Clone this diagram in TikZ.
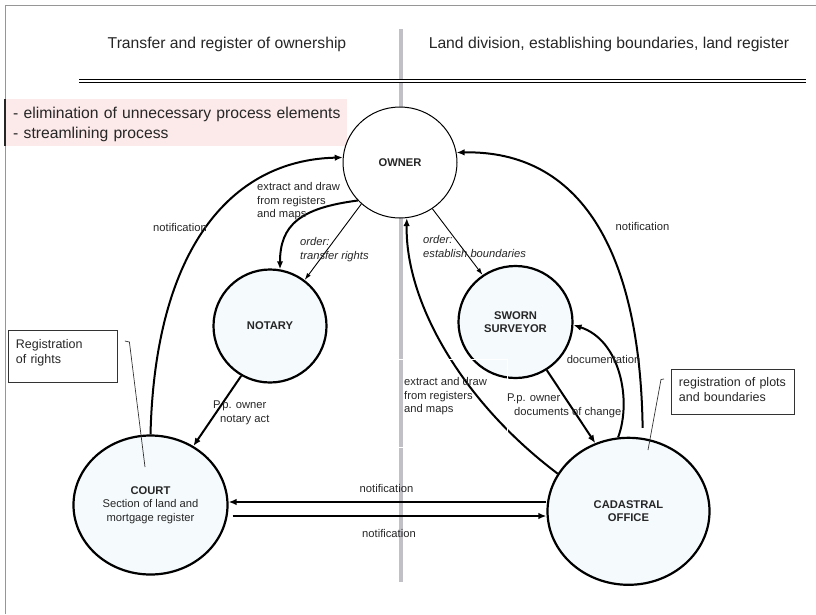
\documentclass[tikz,border=0pt]{standalone}
\usepackage{fontspec}
\setmainfont{Liberation Sans}
\usepackage{tikz}
\usetikzlibrary{shapes.geometric,arrows.meta}

\definecolor{frameGray}{RGB}{150,150,150}
\definecolor{axisGray}{RGB}{192,192,198}
\definecolor{notePink}{RGB}{252,233,233}
\definecolor{officeFill}{RGB}{245,250,253}
\definecolor{inkGray}{RGB}{38,38,38}

\tikzset{
  office/.style={ellipse, draw=black, line width=2.2pt, fill=officeFill,
    font=\fontsize{11.2}{13.5}\selectfont, text=inkGray, align=center, inner sep=0pt},
  flow/.style={line width=2pt, -{Latex[length=8pt,width=6.5pt]}},
  order/.style={line width=0.9pt, -{Latex[length=7pt,width=4.5pt]}},
  lbl/.style={font=\fontsize{11.2}{13.5}\selectfont, text=inkGray, inner sep=0pt, align=left},
  memo/.style={draw=black!80, line width=0.9pt, font=\fontsize{12.5}{15}\selectfont,
    text=inkGray, align=left, anchor=north west},
  pin/.style={line width=0.7pt, black!80},
  headline/.style={anchor=base, font=\fontsize{15.7}{19}\selectfont, text=inkGray},
}

\begin{document}
\begin{tikzpicture}[x=1pt, y=-1pt]
\useasboundingbox (0,0) rectangle (816,614);

% dividing axis and frame
\draw[axisGray, line width=4pt] (400.7,29) -- (400.7,582);
\draw[frameGray, line width=0.9pt] (816,5) -- (5,5) -- (5,614);
\draw[double, double distance=2pt, line width=0.8pt] (79,81) -- (806,81);

\node[headline] (lefthead) at (227,48) {Transfer and register of ownership};
\node[headline] (righthead) at (609,48) {Land division, establishing boundaries, land register};

% aims of the reform
\node[anchor=north west, fill=notePink, text width=326pt, inner xsep=8pt, inner ysep=7.5pt,
  text depth=20pt, align=left, font=\fontsize{15.7}{20}\selectfont, text=inkGray] (aims) at (5,99)
  {\mbox{- elimination of unnecessary process elements}\\\mbox{- streamlining process}};
\draw[black!85, line width=1.2pt] (aims.north west) -- (aims.south west);

% offices
\node[office, line width=1pt, fill=white, minimum width=114pt, minimum height=111pt]
  (owner) at (400,162.5) {\textbf{OWNER}};
\node[office, minimum width=113pt, minimum height=113pt]
  (notary) at (270,326) {\textbf{NOTARY}};
\node[office, minimum width=114pt, minimum height=112pt]
  (sworn) at (515.5,322) {\textbf{SWORN}\\\textbf{SURVEYOR}};
\node[office, minimum width=154pt, minimum height=139pt]
  (court) at (150.5,505) {\textbf{COURT}\\Section of land and\\mortgage register};
\node[office, minimum width=162pt, minimum height=147pt]
  (cadastral) at (628.5,511.3) {\textbf{CADASTRAL}\\\textbf{OFFICE}};

% ownership transfer
\draw[order] (owner.227) -- (notary.53);
\draw[flow] (owner.222) .. controls (300,208) and (280,225) .. (notary.80);
\draw[flow] (notary.240) -- (court.54);
\draw[flow] (court.north) .. controls (155,250) and (230,160) .. (owner.175);

% division and boundaries
\draw[order] (owner.305) -- (sworn.125);
\draw[flow] (sworn.303) -- (cadastral.116);
\draw[flow] (cadastral.98) .. controls (632,400) and (620,340) .. (sworn.357);
\draw[flow] (cadastral.152) .. controls (460,400) and (405,300) .. (owner.277);
\draw[flow, shorten <=10pt] (cadastral.79) .. controls (640,250) and (580,150) .. (owner.10);

% court <-> cadastral office
\draw[flow] ([yshift=9.3pt]cadastral.west) -- ([yshift=3pt]court.east);
\draw[flow] ([xshift=4pt,yshift=-11pt]court.east) -- ([yshift=-4.7pt]cadastral.west);

\draw[white, line width=1pt] (396,359) rectangle (507,447);

% labels
\node[lbl] (lnotif) at (180,227) {notification};
\node[lbl, anchor=west] (lextract) at (257,201.5) {extract and draw\\from registers\\and maps};
\node[lbl, anchor=west, font=\fontsize{11.2}{14.5}\selectfont\itshape] (ltransfer) at (300,249.5) {order:\\transfer rights};
\node[lbl, anchor=west] (lnotaryact) at (213,413) {P.p. owner\\\hspace{7pt}notary act};
\node[lbl, anchor=west, font=\fontsize{11.2}{14}\selectfont\itshape] (lbound) at (423,246) {order:\\establish boundaries};
\node[lbl, anchor=west] (rextract) at (404,396.5) {extract and draw\\from registers\\and maps};
\node[lbl, anchor=west] (lchange) at (507,406) {P.p. owner\\\hspace{7pt}documents of change};
\node[lbl] (ldoc) at (603.5,359) {documentation};
\node[lbl] (rnotif) at (642.5,226) {notification};
\node[lbl] (cnotifup) at (386.5,488) {notification};
\node[lbl] (cnotifdown) at (389,533) {notification};

% callouts
\node[memo, text width=94pt, inner xsep=7.5pt, inner ysep=9pt, text depth=25pt]
  (rights) at (8,330) {Registration\\of rights};
\node[memo, text width=108pt, inner xsep=7.5pt, inner ysep=8.4pt, text depth=19pt]
  (plots) at (671,369) {registration of plots\\and boundaries};
\coordinate (courtpin) at (145,467);
\coordinate (cadastralpin) at (648,450);
\draw[pin] ([xshift=7pt,yshift=-11pt]rights.north east) -- ++(4.5,1) -- (courtpin);
\draw[pin] ([xshift=-7pt,yshift=-10pt]plots.north west) -- ++(-3,0.5) -- (cadastralpin);
\end{tikzpicture}
\end{document}
